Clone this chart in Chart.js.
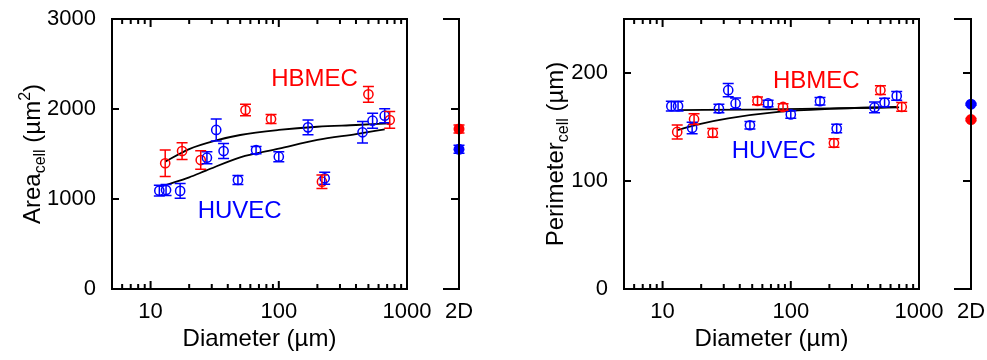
<!DOCTYPE html>
<html>
<head>
<meta charset="utf-8">
<script src="https://cdn.jsdelivr.net/npm/chart.js@4.4.0/dist/chart.umd.min.js"></script>
<style>
html, body { margin: 0; padding: 0; background: #fff; }
#wrap { position: relative; width: 987px; height: 360px; overflow: hidden; }
#wrap canvas { position: absolute; left: 0; top: 0; }
</style>
</head>
<body>
<div id="wrap">
    <canvas id="area-main" width="987" height="360"></canvas>
    <canvas id="area-2d" width="987" height="360"></canvas>
    <canvas id="perim-main" width="987" height="360"></canvas>
    <canvas id="perim-2d" width="987" height="360"></canvas>
</div>
<script>
// 数据
const diamHUVEC = [11.7, 13.2, 17, 27.5, 32.5, 37.1, 48, 66.5, 100, 169, 228, 450, 539, 670];
const areaHUVEC = [1093, 1100, 1090, 1459, 1767, 1533, 1211, 1544, 1470, 1796, 1230, 1741, 1870, 1926];
const areaHUVECErr = [60, 60, 83, 67, 122, 83, 50, 40, 55, 83, 67, 120, 83, 78];
const perimHUVEC = [169.3, 169.3, 149.1, 167.1, 184.1, 171.8, 151.6, 171.8, 161.6, 173.9, 148.6, 168.1, 172.7, 178.8];
const perimHUVECErr = [4.6, 4.6, 5.4, 4, 6.2, 5, 3.5, 3, 3.5, 3.5, 4, 5, 4, 4];

const diamHBMEC = [13, 17.6, 24.6, 55, 87, 217, 500, 733];
const areaHBMEC = [1397, 1533, 1433, 1989, 1889, 1192, 2163, 1878];
const areaHBMECErr = [148, 93, 102, 63, 50, 74, 87, 93];
const perimHBMEC = [145.4, 157.2, 144.5, 174.2, 168.6, 135.2, 184.1, 168.6];
const perimHBMECErr = [6.5, 5, 4, 3.5, 3, 4, 4, 4];

// 拟合曲线
const areaFitUpperX = [13, 20, 32, 50, 100, 200, 400, 730];
const areaFitUpperY = [1415, 1555, 1648, 1711, 1767, 1803, 1822, 1840];
const areaFitLowerX = [13.3, 20, 27, 50, 100, 200, 400, 670];
const areaFitLowerY = [1156, 1241, 1315, 1463, 1559, 1656, 1722, 1774];
const perimFitUpperX = [13.2, 50, 200, 700];
const perimFitUpperY = [165.7, 166, 167.2, 168.2];
const perimFitLowerX = [13, 19, 32.5, 80, 203, 670];
const perimFitLowerY = [147.2, 152.5, 158, 164, 166.8, 168.6];

// 2D 对照 [HBMEC, HUVEC]
const area2D = [1778, 1552];
const area2DErr = [45, 45];
const perim2D = [156.9, 171.1];
const perim2DErr = [1, 1];

// 刻度
const xMajorTicks = [10, 100, 1000];
const xMinorTicks = [6, 7, 8, 9, 20, 30, 40, 50, 60, 70, 80, 90, 200, 300, 400, 500, 600, 700, 800, 900];
const areaTicks = [0, 1000, 2000, 3000];
const perimTicks = [0, 100, 200];

// 标注位置 (数据坐标)
const areaLabelHBMEC = [190, 2333];
const areaLabelHUVEC = [49.5, 859];
const perimLabelHBMEC = [158, 191.9];
const perimLabelHUVEC = [73.6, 127.1];

const RED = '#ff0000';
const BLUE = '#0000ff';
const FONT = '"Liberation Sans", Arial, Helvetica, sans-serif';

Chart.defaults.font.family = FONT;
Chart.defaults.color = '#000';

function toPoints(xs, ys) {
    return xs.map((x, i) => ({ x: x, y: ys[i] }));
}

// 误差棒
const errorBarPlugin = {
    id: 'errorBars',
    afterDatasetsDraw(chart) {
        const { ctx, scales: { x, y } } = chart;
        chart.data.datasets.forEach(ds => {
            if (!ds.errors) return;
            ctx.save();
            ctx.strokeStyle = ds.borderColor;
            ctx.lineWidth = 1.5;
            ctx.beginPath();
            ds.data.forEach((p, j) => {
                const px = x.getPixelForValue(p.x);
                const top = y.getPixelForValue(p.y + ds.errors[j]);
                const bot = y.getPixelForValue(p.y - ds.errors[j]);
                ctx.moveTo(px, top); ctx.lineTo(px, bot);
                ctx.moveTo(px - 5.5, top); ctx.lineTo(px + 5.5, top);
                ctx.moveTo(px - 5.5, bot); ctx.lineTo(px + 5.5, bot);
            });
            ctx.stroke();
            ctx.restore();
        });
    }
};

// 旋转的 y 轴标题 (带上下标)
function drawRotatedTitle(ctx, parts, x, cy) {
    ctx.save();
    ctx.translate(x, cy);
    ctx.rotate(-Math.PI / 2);
    ctx.fillStyle = '#000';
    ctx.textAlign = 'left';
    ctx.textBaseline = 'alphabetic';
    let total = 0;
    parts.forEach(p => {
        ctx.font = p.size + 'px ' + FONT;
        p.w = ctx.measureText(p.text).width;
        total += p.w;
    });
    let cx = -total / 2;
    parts.forEach(p => {
        ctx.font = p.size + 'px ' + FONT;
        ctx.fillText(p.text, cx, p.dy);
        cx += p.w;
    });
    ctx.restore();
}

// 主图边框、内向刻度、标注
const framePlugin = {
    id: 'frame',
    afterDraw(chart, args, opts) {
        const { ctx, chartArea: a, scales: { x, y } } = chart;
        ctx.save();
        ctx.strokeStyle = '#000';
        ctx.lineWidth = 2;
        ctx.strokeRect(a.left, a.top, a.right - a.left, a.bottom - a.top);
        ctx.beginPath();
        xMajorTicks.concat(xMinorTicks).forEach(v => {
            const len = xMajorTicks.includes(v) ? 8 : 5;
            const px = x.getPixelForValue(v);
            ctx.moveTo(px, a.bottom); ctx.lineTo(px, a.bottom - len);
            ctx.moveTo(px, a.top); ctx.lineTo(px, a.top + len);
        });
        opts.yTicks.forEach(v => {
            const py = y.getPixelForValue(v);
            ctx.moveTo(a.left, py); ctx.lineTo(a.left + 7, py);
        });
        ctx.stroke();

        ctx.font = '24px ' + FONT;
        ctx.textAlign = 'center';
        ctx.textBaseline = 'middle';
        opts.labels.forEach(l => {
            ctx.fillStyle = l.color;
            ctx.fillText(l.text, x.getPixelForValue(l.pos[0]), y.getPixelForValue(l.pos[1]));
        });
        ctx.restore();

        drawRotatedTitle(ctx, opts.title, opts.titleX, (a.top + a.bottom) / 2);
    }
};

// 2D 小图的轴
const sideFramePlugin = {
    id: 'sideFrame',
    afterDraw(chart, args, opts) {
        const { ctx, chartArea: a, scales: { y } } = chart;
        ctx.save();
        ctx.strokeStyle = '#000';
        ctx.lineWidth = 2;
        ctx.beginPath();
        ctx.moveTo(a.left, a.top); ctx.lineTo(a.right, a.top);
        ctx.lineTo(a.right, a.bottom); ctx.lineTo(a.left, a.bottom);
        opts.yTicks.forEach(v => {
            const py = y.getPixelForValue(v);
            ctx.moveTo(a.right, py); ctx.lineTo(a.right - 8, py);
        });
        ctx.stroke();
        ctx.restore();
    }
};

function pointSet(label, xs, ys, errs, color) {
    return {
        label: label,
        data: toPoints(xs, ys),
        errors: errs,
        borderColor: color,
        backgroundColor: 'rgba(0,0,0,0)',
        pointRadius: 4.6,
        pointBorderWidth: 1.5,
        showLine: false
    };
}

function fitSet(xs, ys) {
    return {
        type: 'line',
        data: toPoints(xs, ys),
        borderColor: '#000',
        borderWidth: 1.8,
        pointRadius: 0,
        fill: false,
        cubicInterpolationMode: 'monotone'
    };
}

function mainChart(id, cfg) {
    return new Chart(document.getElementById(id), {
        type: 'scatter',
        data: { datasets: cfg.datasets },
        options: {
            responsive: false,
            animation: false,
            layout: { padding: { left: cfg.padLeft, right: cfg.padRight, top: 19, bottom: 0 } },
            plugins: {
                legend: { display: false },
                tooltip: { enabled: false },
                frame: { yTicks: cfg.yTicks, labels: cfg.labels, title: cfg.title, titleX: cfg.titleX }
            },
            scales: {
                x: {
                    type: 'logarithmic',
                    min: 5,
                    max: 1000,
                    grid: { display: false },
                    border: { display: false },
                    afterBuildTicks: s => { s.ticks = xMajorTicks.map(v => ({ value: v })); },
                    afterFit: s => { s.height = 71; s.paddingLeft = 0; s.paddingRight = 0; },
                    ticks: {
                        font: { size: 22 },
                        color: '#000',
                        padding: 2,
                        maxRotation: 0,
                        autoSkip: false,
                        callback: v => String(v)
                    },
                    title: {
                        display: true,
                        text: 'Diameter (µm)',
                        font: { size: 24 },
                        color: '#000',
                        padding: { top: 0, bottom: 6 }
                    }
                },
                y: {
                    min: cfg.yMin,
                    max: cfg.yMax,
                    grid: { display: false },
                    border: { display: false },
                    afterBuildTicks: s => { s.ticks = cfg.yTicks.map(v => ({ value: v })); },
                    afterFit: s => { s.width = cfg.yWidth; s.paddingTop = 0; s.paddingBottom = 0; },
                    ticks: { font: { size: 22 }, color: '#000', padding: 8, callback: v => String(v) }
                }
            }
        },
        plugins: [errorBarPlugin, framePlugin]
    });
}

function sideChart(id, cfg) {
    const mk = (v, e, color) => ({
        data: [{ x: 0, y: v }],
        errors: [e],
        borderColor: color,
        backgroundColor: color,
        pointRadius: 5.5,
        pointBorderWidth: 0,
        clip: false
    });
    return new Chart(document.getElementById(id), {
        type: 'scatter',
        data: {
            datasets: [
                mk(cfg.values[0], cfg.errors[0], RED),
                mk(cfg.values[1], cfg.errors[1], BLUE)
            ]
        },
        options: {
            responsive: false,
            animation: false,
            layout: { padding: { left: cfg.left, right: 987 - cfg.right, top: 19, bottom: 0 } },
            plugins: {
                legend: { display: false },
                tooltip: { enabled: false },
                sideFrame: { yTicks: cfg.yTicks }
            },
            scales: {
                x: {
                    type: 'linear',
                    min: -1,
                    max: 0,
                    grid: { display: false },
                    border: { display: false },
                    afterBuildTicks: s => { s.ticks = [{ value: 0 }]; },
                    afterFit: s => { s.height = 71; s.paddingLeft = 0; s.paddingRight = 0; },
                    ticks: { font: { size: 22 }, color: '#000', padding: 2, maxRotation: 0, callback: () => '2D' }
                },
                y: { display: false, min: cfg.yMin, max: cfg.yMax }
            }
        },
        plugins: [errorBarPlugin, sideFramePlugin]
    });
}

document.addEventListener('DOMContentLoaded', () => {
    // 面积
    mainChart('area-main', {
        datasets: [
            pointSet('HUVEC', diamHUVEC, areaHUVEC, areaHUVECErr, BLUE),
            pointSet('HBMEC', diamHBMEC, areaHBMEC, areaHBMECErr, RED),
            fitSet(areaFitUpperX, areaFitUpperY),
            fitSet(areaFitLowerX, areaFitLowerY)
        ],
        padLeft: 0,
        yWidth: 112,
        padRight: 987 - 407,
        yMin: 0,
        yMax: 3000,
        yTicks: areaTicks,
        labels: [
            { text: 'HBMEC', color: RED, pos: areaLabelHBMEC },
            { text: 'HUVEC', color: BLUE, pos: areaLabelHUVEC }
        ],
        titleX: 40,
        title: [
            { text: 'Area', size: 24, dy: 0 },
            { text: 'cell', size: 16, dy: 5 },
            { text: ' (µm', size: 24, dy: 0 },
            { text: '2', size: 16, dy: -10 },
            { text: ')', size: 24, dy: 0 }
        ]
    });
    sideChart('area-2d', {
        values: area2D, errors: area2DErr,
        left: 443, right: 459, yMin: 0, yMax: 3000, yTicks: [1000, 2000]
    });

    // 周长
    mainChart('perim-main', {
        datasets: [
            pointSet('HUVEC', diamHUVEC, perimHUVEC, perimHUVECErr, BLUE),
            pointSet('HBMEC', diamHBMEC, perimHBMEC, perimHBMECErr, RED),
            fitSet(perimFitUpperX, perimFitUpperY),
            fitSet(perimFitLowerX, perimFitLowerY)
        ],
        padLeft: 564,
        yWidth: 60,
        padRight: 987 - 919,
        yMin: 0,
        yMax: 250,
        yTicks: perimTicks,
        labels: [
            { text: 'HBMEC', color: RED, pos: perimLabelHBMEC },
            { text: 'HUVEC', color: BLUE, pos: perimLabelHUVEC }
        ],
        titleX: 563,
        title: [
            { text: 'Perimeter', size: 24, dy: 0 },
            { text: 'cell', size: 16, dy: 5 },
            { text: ' (µm)', size: 24, dy: 0 }
        ]
    });
    sideChart('perim-2d', {
        values: perim2D, errors: perim2DErr,
        left: 954, right: 971, yMin: 0, yMax: 250, yTicks: [100, 200]
    });
});
</script>
</body>
</html>
